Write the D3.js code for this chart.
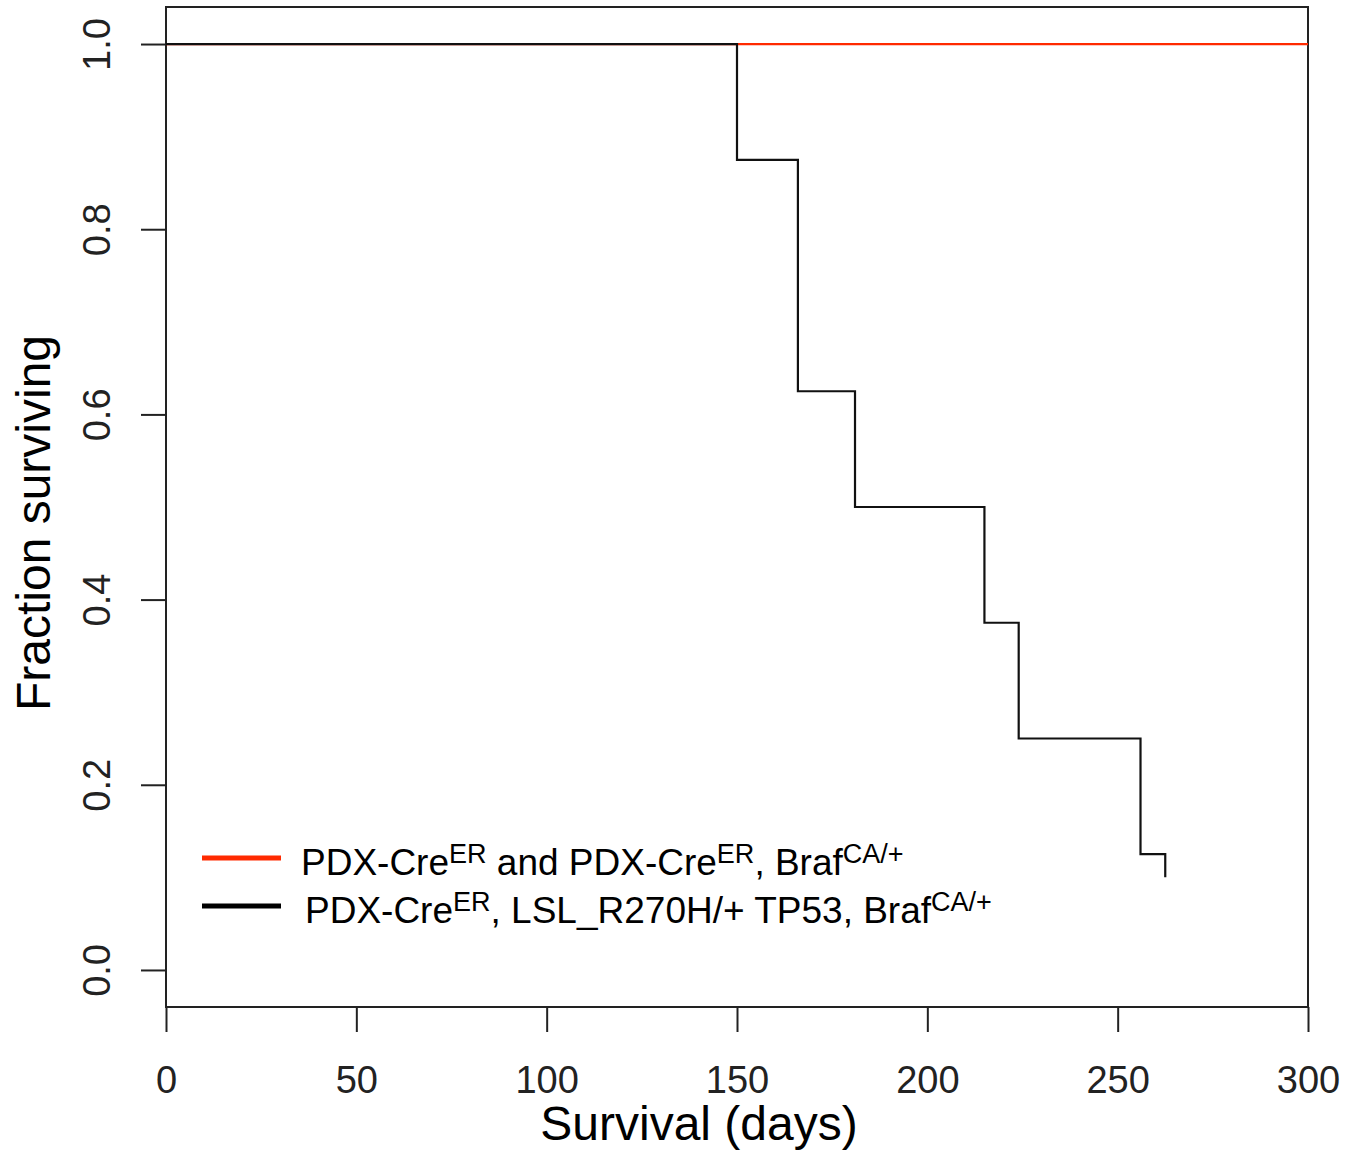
<!DOCTYPE html>
<html>
<head>
<meta charset="utf-8">
<script src="https://cdn.jsdelivr.net/npm/d3@7"></script>
<style>
  body { margin: 0; background: white; }
  text { font-family: "Liberation Sans", Arial, sans-serif; }
</style>
</head>
<body>
<div id="vis1"></div>
<script>
// survival data
var blackTimes = [0, 150, 166, 181, 215, 224, 256, 262.5];
var blackSurv  = [1, 0.875, 0.625, 0.5, 0.375, 0.25, 0.125, 0.1];
var redTimes = [0, 300];
var redSurv  = [1, 1];
var xTicks = [0, 50, 100, 150, 200, 250, 300];
var yTicks = [0, 0.2, 0.4, 0.6, 0.8, 1.0];

var width = 1345, height = 1153;

var svg = d3.select("#vis1")
  .append("svg")
    .attr("width", width)
    .attr("height", height);

var x = d3.scaleLinear()
  .domain([0, 300])
  .range([166, 1308]);

var y = d3.scaleLinear()
  .domain([-0.04, 1.04])
  .range([1007, 7]);

// plot box
svg.append("rect")
  .attr("x", x(0))
  .attr("y", y(1.04))
  .attr("width", x(300) - x(0))
  .attr("height", y(-0.04) - y(1.04))
  .attr("fill", "none")
  .attr("stroke", "#222")
  .attr("stroke-width", 2);

// x axis
var gx = svg.append("g")
  .attr("transform", "translate(0," + y(-0.04) + ")")
  .call(d3.axisBottom(x).tickValues(xTicks).tickSize(25).tickSizeOuter(0).tickPadding(0));
gx.select(".domain").remove();
gx.selectAll("line").attr("stroke", "#222").attr("stroke-width", 2);
gx.selectAll("text")
  .attr("y", 86)
  .attr("dy", null)
  .style("font-size", "38px")
  .style("fill", "#222");

// y axis
var gy = svg.append("g")
  .attr("transform", "translate(" + x(0) + ",0)")
  .call(d3.axisLeft(y).tickValues(yTicks).tickSize(25).tickSizeOuter(0)
    .tickFormat(d3.format(".1f")));
gy.select(".domain").remove();
gy.selectAll("line").attr("stroke", "#222").attr("stroke-width", 2);
gy.selectAll("text")
  .attr("x", null)
  .attr("dy", null)
  .attr("text-anchor", "middle")
  .attr("transform", "translate(-56,0) rotate(-90)")
  .style("font-size", "38px")
  .style("fill", "#222");

// curves
var line = d3.line()
  .x(function(d) { return x(d[0]); })
  .y(function(d) { return y(d[1]); })
  .curve(d3.curveStepAfter);

svg.append("path")
  .datum(d3.zip(redTimes, redSurv))
  .attr("fill", "none")
  .attr("stroke", "#ff2a00")
  .attr("stroke-width", 2.2)
  .attr("d", line);

svg.append("path")
  .datum(d3.zip(blackTimes, blackSurv))
  .attr("fill", "none")
  .attr("stroke", "#111")
  .attr("stroke-width", 2.2)
  .attr("d", line);

// axis titles
svg.append("text")
  .attr("x", 699)
  .attr("y", 1140)
  .attr("text-anchor", "middle")
  .style("font-size", "48px")
  .style("fill", "black")
  .text("Survival (days)");

svg.append("text")
  .attr("transform", "translate(50,523) rotate(-90)")
  .attr("text-anchor", "middle")
  .style("font-size", "48px")
  .style("fill", "black")
  .text("Fraction surviving");

// legend
var legend = [
  {color: "#ff2a00", y: 858, tx: 301, parts: [["PDX-Cre", 0], ["ER", 1], [" and PDX-Cre", 0], ["ER", 1], [", Braf", 0], ["CA/+", 1]]},
  {color: "#000", y: 906, tx: 305, parts: [["PDX-Cre", 0], ["ER", 1], [", LSL_R270H/+ TP53, Braf", 0], ["CA/+", 1]]}
];

legend.forEach(function(l) {
  svg.append("line")
    .attr("x1", 202).attr("x2", 281)
    .attr("y1", l.y).attr("y2", l.y)
    .attr("stroke", l.color)
    .attr("stroke-width", 5);
  var t = svg.append("text")
    .attr("x", l.tx)
    .attr("y", l.y + 17)
    .style("font-size", "37px")
    .style("fill", "black");
  l.parts.forEach(function(p, i) {
    var ts = t.append("tspan").text(p[0]);
    if (p[1]) ts.attr("dy", -12).style("font-size", "27px");
    else if (i > 0) ts.attr("dy", 12);
  });
});
</script>
</body>
</html>
